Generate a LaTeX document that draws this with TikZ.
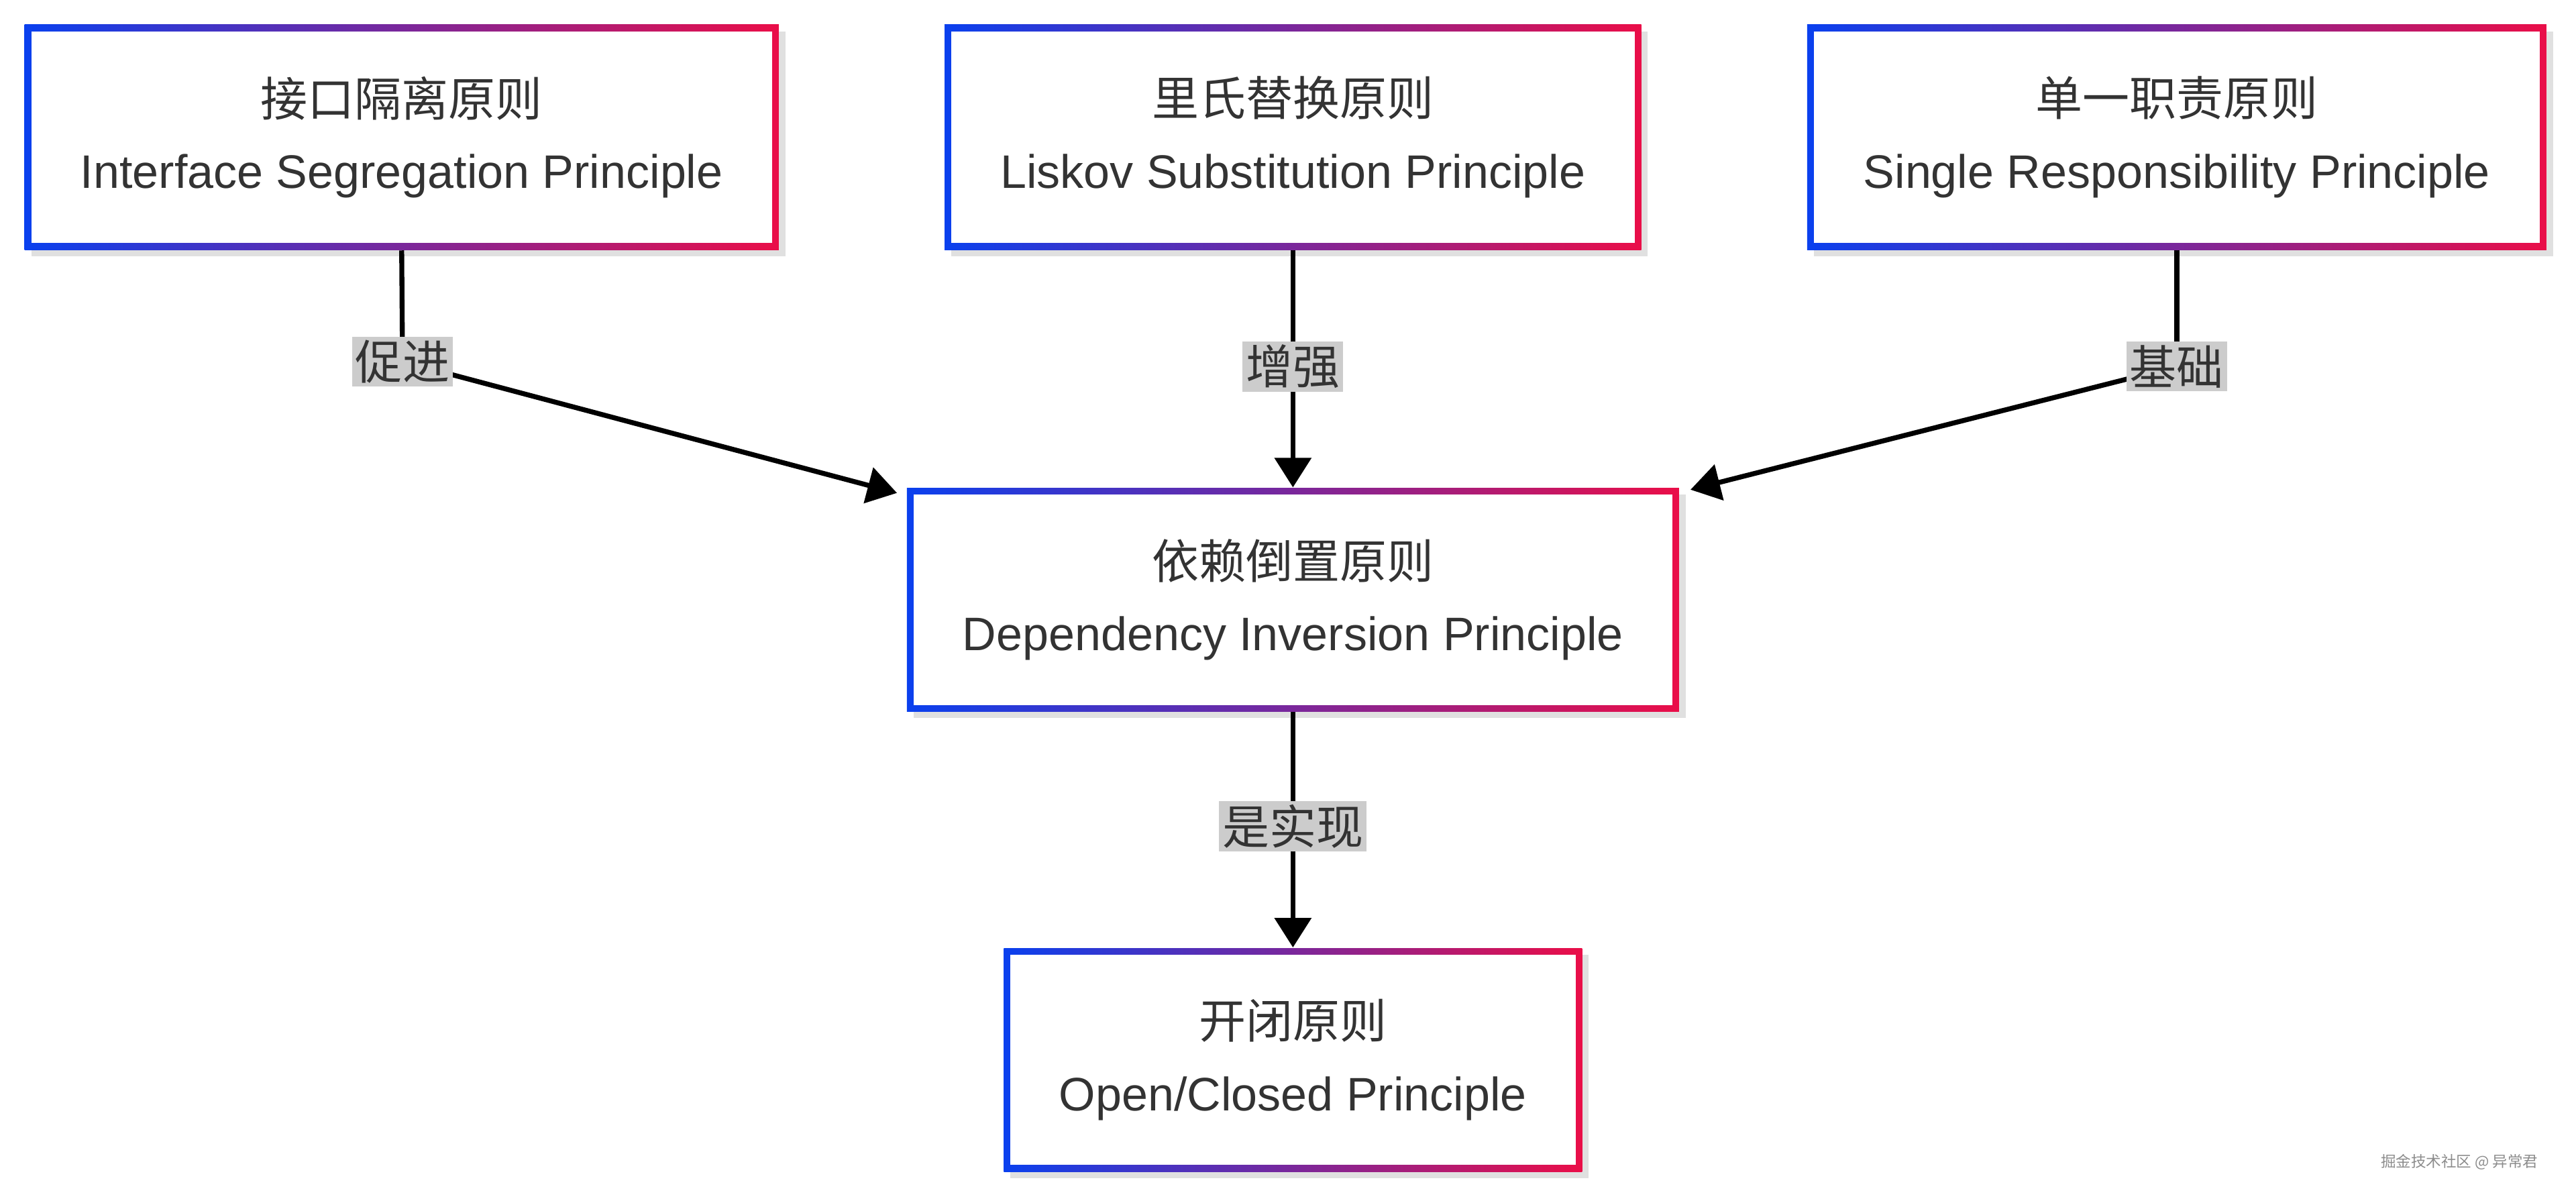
\documentclass[tikz,border=0pt]{standalone}
\usepackage{fontspec}
\setmainfont{Liberation Sans}
\newfontfamily\cjk{Noto Sans CJK SC}
\usetikzlibrary{arrows.meta,shadows}
\definecolor{cb}{HTML}{0A40EE}
\definecolor{cr}{HTML}{EA0E48}
\definecolor{tx}{HTML}{333333}
\definecolor{lab}{HTML}{CCCCCC}
\begin{document}
\begin{tikzpicture}[x=0.5pt,y=-0.5pt,
  box/.style={rectangle, inner sep=0pt, left color=cb, right color=cr,
    drop shadow={shadow xshift=2pt, shadow yshift=-2pt, opacity=0.12, fill=black},
    path picture={\fill[white] ([shift={(2pt,-2pt)}]path picture bounding box.north west) rectangle ([shift={(-2pt,2pt)}]path picture bounding box.south east);},
    align=center, text=tx, font=\fontsize{14.3}{22}\selectfont},
  lbl/.style={fill=lab, inner sep=1pt, text=tx, font=\cjk\fontsize{14.3}{16}\selectfont},
  con/.style={line width=1.5pt, black},
  arr/.style={con, -{Triangle[length=9pt,width=11pt]}}]
\useasboundingbox (0,0) rectangle (1568,730.5);
\node[box, minimum width=229.5pt, minimum height=68.5pt] (isp) at (244.5,83.5) {{\cjk 接口隔离原则}\\Interface Segregation Principle};
\node[box, minimum width=212pt, minimum height=68.5pt] (lsp) at (787,83.5) {{\cjk 里氏替换原则}\\Liskov Substitution Principle};
\node[box, minimum width=225pt, minimum height=68.5pt] (srp) at (1325,83.5) {{\cjk 单一职责原则}\\Single Responsibility Principle};
\node[box, minimum width=235pt, minimum height=68pt] (dip) at (787,365) {{\cjk 依赖倒置原则}\\Dependency Inversion Principle};
\node[box, minimum width=176pt, minimum height=68pt] (ocp) at (787,645) {{\cjk 开闭原则}\\Open/Closed Principle};
\coordinate (t1) at (546,300);
\coordinate (t3) at (1029,298);
\coordinate (k1) at (245,220);
\coordinate (k3) at (1325,223);
\draw[con] (isp.south) -- (k1);
\draw[arr] (k1) -- (t1);
\draw[con] (srp.south) -- (k3);
\draw[arr] (k3) -- (t3);
\draw[arr] (lsp.south) -- (dip.north);
\draw[arr] (dip.south) -- (ocp.north);
\node[lbl] (l1) at (k1) {促进};
\node[lbl] (l2) at (787,223) {增强};
\node[lbl] (l3) at (k3) {基础};
\node[lbl] (l4) at (787,503) {是实现};
\node[text=black!45, font=\cjk\fontsize{4.6}{5}\selectfont] (wm) at (1497,707) {掘金技术社区 @ 异常君};
\end{tikzpicture}
\end{document}
